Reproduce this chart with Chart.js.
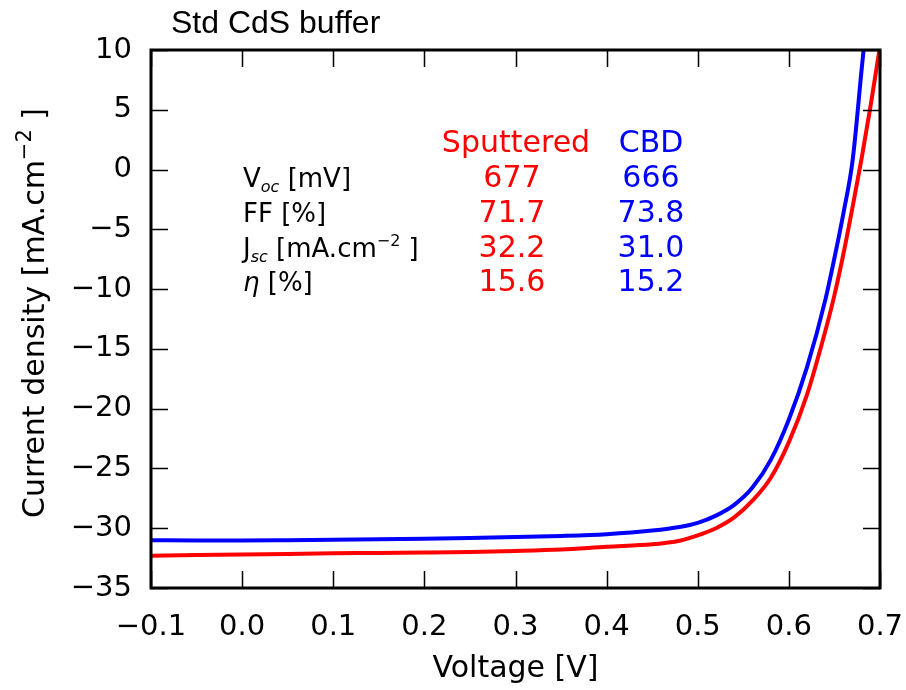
<!DOCTYPE html>
<html>
<head>
<meta charset="utf-8">
<script src="https://cdn.jsdelivr.net/npm/chart.js@4"></script>
<style>
  html, body { margin: 0; padding: 0; background: #fff; }
  #wrap { width: 906px; height: 690px; position: relative; }
</style>
</head>
<body>
<div id="wrap"><canvas id="ivChart" width="906" height="690"></canvas></div>
<script>
// --- J-V curves, Std CdS buffer ---

const voltage = [-0.1, -0.05, 0, 0.05, 0.1, 0.15, 0.2, 0.25, 0.3, 0.35, 0.4, 0.45, 0.48, 0.5,
    0.52, 0.54, 0.56, 0.58, 0.6, 0.62, 0.64, 0.65, 0.66, 0.67, 0.68, 0.69, 0.7];
const sputtered = [-32.3, -32.25, -32.2, -32.15, -32.1, -32.07, -32.03, -31.98, -31.9, -31.78, -31.55, -31.35, -31.05, -30.6,
    -30.0, -29.1, -27.7, -25.8, -22.8, -18.8, -13.5, -10.5, -7.0, -3.1, 1.0, 5.5, 10.3];
const cbd = [-31.0, -31.02, -31.02, -31.0, -30.97, -30.93, -30.88, -30.82, -30.74, -30.65, -30.5, -30.2, -29.9, -29.55,
    -28.95, -28.05, -26.6, -24.3, -20.9, -16.5, -10.9, -7.4, -3.6, 0.8, 8.5, 16, 24];

const xTicks = [-0.1, 0.0, 0.1, 0.2, 0.3, 0.4, 0.5, 0.6, 0.7];
const yTicks = [10, 5, 0, -5, -10, -15, -20, -25, -30, -35];

const tableRows = ['Voc', 'FF', 'Jsc', 'eta'];
const sputteredVals = ['677', '71.7', '32.2', '15.6'];
const cbdVals = ['666', '73.8', '31.0', '15.2'];

const RED = '#ff0000';
const BLUE = '#0000ff';
const DJ = '"DejaVu Sans", sans-serif';

const toPts = (ys) => voltage.map((v, i) => ({ x: v, y: ys[i] }));
const minus = (s) => s.replace('-', '\u2212');

// draw a run of text pieces: [text, font, dy]
function drawRuns(ctx, x, y, runs, color) {
    ctx.fillStyle = color;
    ctx.textAlign = 'left';
    ctx.textBaseline = 'alphabetic';
    runs.forEach(([t, f, dy]) => {
        ctx.font = f;
        ctx.fillText(t, x, y + (dy || 0));
        x += ctx.measureText(t).width;
    });
}
function runsWidth(ctx, runs) {
    return runs.reduce((w, [t, f]) => { ctx.font = f; return w + ctx.measureText(t).width; }, 0);
}

const framePlugin = {
    id: 'frame',
    afterDraw(chart) {
        const { ctx, chartArea: a, scales } = chart;
        ctx.save();
        // inward ticks on all four sides
        ctx.strokeStyle = '#000';
        ctx.lineWidth = 1.5;
        const tl = 17;
        ctx.beginPath();
        xTicks.forEach(v => {
            const px = Math.round(scales.x.getPixelForValue(v)) + 0.5;
            ctx.moveTo(px, a.bottom); ctx.lineTo(px, a.bottom - tl);
            ctx.moveTo(px, a.top); ctx.lineTo(px, a.top + tl);
        });
        yTicks.forEach(v => {
            const py = Math.round(scales.y.getPixelForValue(v)) + 0.5;
            ctx.moveTo(a.left, py); ctx.lineTo(a.left + tl, py);
            ctx.moveTo(a.right, py); ctx.lineTo(a.right - tl, py);
        });
        ctx.stroke();
        // box
        ctx.lineWidth = 3;
        ctx.strokeRect(a.left, a.top, a.right - a.left, a.bottom - a.top);

        // title
        ctx.fillStyle = '#000';
        ctx.font = '32px "Liberation Sans", Arial, sans-serif';
        ctx.textBaseline = 'alphabetic';
        ctx.textAlign = 'left';
        ctx.fillText('Std CdS buffer', 171, 33);

        // y axis title, rotated
        const big = '30px ' + DJ;
        const yRuns = [['Current density [mA.cm', big], ['\u22122', '21px ' + DJ, -13], [' ]', big]];
        const w = runsWidth(ctx, yRuns);
        ctx.save();
        ctx.translate(44, (a.top + a.bottom) / 2 - 6);
        ctx.rotate(-Math.PI / 2);
        drawRuns(ctx, -w / 2, 0, yRuns, '#000');
        ctx.restore();

        // parameter table
        const lab = '26px ' + DJ;
        const sub = 'italic 16px ' + DJ;
        const sup = '16px ' + DJ;
        const rowY = [187, 222, 257, 291];
        const labels = {
            Voc: [['V', lab], ['oc', sub, 5], [' [mV]', lab]],
            FF: [['FF [%]', lab]],
            Jsc: [['J', lab], ['sc', sub, 5], [' [mA.cm', lab], ['\u22122', sup, -11], [' ]', lab]],
            eta: [['\u03b7', 'italic 26px ' + DJ, 0], [' [%]', lab]]
        };
        tableRows.forEach((k, i) => drawRuns(ctx, 243, rowY[i], labels[k], '#000'));

        ctx.font = '30px ' + DJ;
        ctx.textAlign = 'center';
        ctx.fillStyle = RED;
        ctx.fillText('Sputtered', 516, 152);
        sputteredVals.forEach((t, i) => ctx.fillText(t, 512, rowY[i]));
        ctx.fillStyle = BLUE;
        ctx.fillText('CBD', 651, 152);
        cbdVals.forEach((t, i) => ctx.fillText(t, 651, rowY[i]));
        ctx.restore();
    }
};

function initChart() {
    const ctx = document.getElementById('ivChart').getContext('2d');
    new Chart(ctx, {
        type: 'line',
        data: {
            datasets: [
                { label: 'Sputtered', data: toPts(sputtered), borderColor: RED, borderWidth: 4, pointRadius: 0, cubicInterpolationMode: 'monotone' },
                { label: 'CBD', data: toPts(cbd), borderColor: BLUE, borderWidth: 4, pointRadius: 0, cubicInterpolationMode: 'monotone' }
            ]
        },
        options: {
            responsive: false,
            animation: false,
            events: [],
            layout: { padding: { top: 50, right: 26, left: 0, bottom: 0 } },
            plugins: { legend: { display: false }, tooltip: { enabled: false } },
            scales: {
                x: {
                    type: 'linear', min: -0.1, max: 0.7,
                    afterFit: (s) => { s.height = 102; s.paddingLeft = 0; s.paddingRight = 0; },
                    afterBuildTicks: (s) => { s.ticks = xTicks.map(v => ({ value: v })); },
                    grid: { display: false },
                    border: { display: false },
                    ticks: {
                        color: '#000', padding: 14, maxRotation: 0,
                        font: { family: 'DejaVu Sans', size: 29 },
                        callback: (v) => minus(v.toFixed(1))
                    },
                    title: {
                        display: true, text: 'Voltage [V]', color: '#000',
                        font: { family: 'DejaVu Sans', size: 30, lineHeight: 1.2 },
                        padding: { top: 0, bottom: 3 }
                    }
                },
                y: {
                    min: -35, max: 10,
                    afterFit: (s) => { s.width = 151; s.paddingTop = 0; s.paddingBottom = 0; },
                    afterBuildTicks: (s) => { s.ticks = yTicks.map(v => ({ value: v })); },
                    grid: { display: false },
                    border: { display: false },
                    ticks: {
                        color: '#000', padding: 11,
                        font: { family: 'DejaVu Sans', size: 29 },
                        callback: (v) => minus(String(v))
                    },
                    title: { display: false }
                }
            }
        },
        plugins: [framePlugin]
    });
}

document.addEventListener('DOMContentLoaded', initChart);
</script>
</body>
</html>
